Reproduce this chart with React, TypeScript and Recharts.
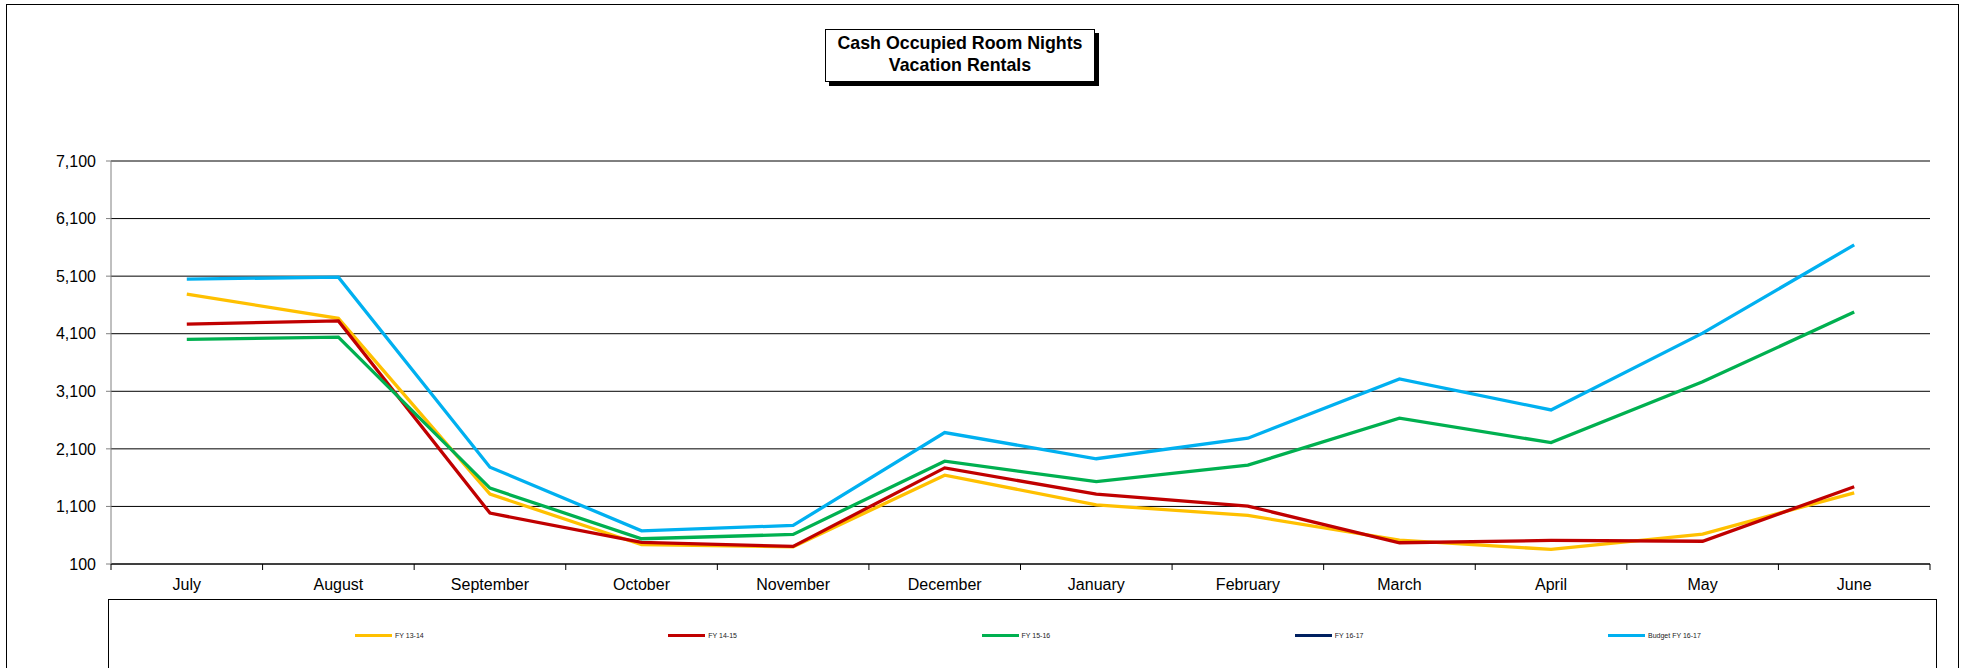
import React from 'react';
import { LineChart, Line, XAxis, YAxis, CartesianGrid } from 'recharts';

const MONTHS = ['July', 'August', 'September', 'October', 'November', 'December', 'January', 'February', 'March', 'April', 'May', 'June'];
const FY_13_14 = [4788, 4366, 1314, 435, 398, 1643, 1128, 943, 516, 353, 620, 1337];
const FY_14_15 = [4267, 4323, 984, 475, 405, 1770, 1313, 1106, 469, 509, 495, 1441];
const FY_15_16 = [4002, 4040, 1418, 539, 614, 1886, 1530, 1817, 2632, 2209, 3265, 4476];
const FY_16_17: (number | null)[] = [null, null, null, null, null, null, null, null, null, null, null, null];
const BUDGET_16_17 = [5048, 5083, 1782, 677, 770, 2383, 1928, 2285, 3314, 2776, 4110, 5643];
const Y_TICKS = [100, 1100, 2100, 3100, 4100, 5100, 6100, 7100];

const SERIES = [
    { key: 'fy1314', name: 'FY 13-14', color: '#FFC000', values: FY_13_14 },
    { key: 'fy1415', name: 'FY 14-15', color: '#C00000', values: FY_14_15 },
    { key: 'fy1516', name: 'FY 15-16', color: '#00B050', values: FY_15_16 },
    { key: 'fy1617', name: 'FY 16-17', color: '#002060', values: FY_16_17 },
    { key: 'budget', name: 'Budget FY 16-17', color: '#00B0F0', values: BUDGET_16_17 },
];

const data = MONTHS.map((month, i) => {
    const row: Record<string, string | number | null> = { month };
    SERIES.forEach((s) => { row[s.key] = s.values[i]; });
    return row;
});

const W = 1965;
const H = 668;
const MARGIN = { top: 161, right: 35, bottom: 74, left: 51 };
const Y_AXIS_W = 60;
const PLOT_W = W - MARGIN.left - MARGIN.right - Y_AXIS_W;
const STEP = PLOT_W / MONTHS.length;
const FONT = '"Liberation Sans", Arial, sans-serif';

// month label plus the tick marks that sit on the category boundaries
const MonthTick = (props: any) => {
    const { x, y, payload, index } = props;
    return (
        <g>
            <line x1={x - STEP / 2} x2={x - STEP / 2} y1={y} y2={y + 6} stroke="#000" />
            {index === MONTHS.length - 1 && (
                <line x1={x + STEP / 2} x2={x + STEP / 2} y1={y} y2={y + 6} stroke="#000" />
            )}
            <text x={x} y={y + 20} textAnchor="middle" dominantBaseline="central" fontSize={16} fontFamily={FONT} fill="#000">
                {payload.value}
            </text>
        </g>
    );
};

const App: React.FC = () => {
    return (
        <div style={{ position: 'absolute', left: 0, top: 0, width: W, height: H, overflow: 'hidden', background: '#fff', fontFamily: FONT }}>
            <div style={{ position: 'absolute', left: 6, top: 4, width: 1951, height: 700, border: '1px solid #000' }} />
            <div style={{ position: 'absolute', left: 0, top: 0 }}>
                <LineChart width={W} height={H} data={data} margin={MARGIN}>
                    <CartesianGrid vertical={false} stroke="#000" />
                    <XAxis
                        dataKey="month"
                        interval={0}
                        padding={{ left: STEP / 2, right: STEP / 2 }}
                        tickSize={0}
                        tickMargin={0}
                        height={30}
                        tickLine={false}
                        axisLine={{ stroke: '#000' }}
                        tick={<MonthTick />}
                    />
                    <YAxis
                        domain={[100, 7100]}
                        ticks={Y_TICKS}
                        interval={0}
                        width={Y_AXIS_W}
                        tickSize={5}
                        tickMargin={10}
                        axisLine={{ stroke: '#808080' }}
                        tickLine={{ stroke: '#808080' }}
                        tick={{ fill: '#000', fontSize: 16, fontFamily: FONT }}
                        tickFormatter={(v) => Number(v).toLocaleString('en-US')}
                    />
                    {SERIES.map((s) => (
                        <Line
                            key={s.key}
                            type="linear"
                            dataKey={s.key}
                            name={s.name}
                            stroke={s.color}
                            strokeWidth={3.3}
                            dot={false}
                            activeDot={false}
                            isAnimationActive={false}
                        />
                    ))}
                </LineChart>
            </div>
            {/* title box */}
            <div
                style={{
                    position: 'absolute', left: 825, top: 29, width: 268, height: 47,
                    border: '1px solid #000', background: '#fff', boxShadow: '4px 4px 0 #000',
                    textAlign: 'center', fontWeight: 'bold', fontSize: 17.8, lineHeight: '21.7px',
                    paddingTop: 4, boxSizing: 'content-box',
                }}
            >
                <div style={{ marginTop: -1 }}>Cash Occupied Room Nights</div>
                <div>Vacation Rentals</div>
            </div>
            {/* legend box */}
            <div style={{ position: 'absolute', left: 108, top: 599, width: 1827, height: 100, border: '1px solid #000' }}>
                {SERIES.map((s, i) => (
                    <div key={s.key} style={{ position: 'absolute', left: 246 + i * 313.25, top: 30, display: 'flex', alignItems: 'center', height: 10 }}>
                        <span style={{ display: 'inline-block', width: 37, height: 3, background: s.color }} />
                        <span style={{ fontSize: 7, marginLeft: 3, color: '#222', whiteSpace: 'nowrap' }}>{s.name}</span>
                    </div>
                ))}
            </div>
        </div>
    );
};

export default App;
